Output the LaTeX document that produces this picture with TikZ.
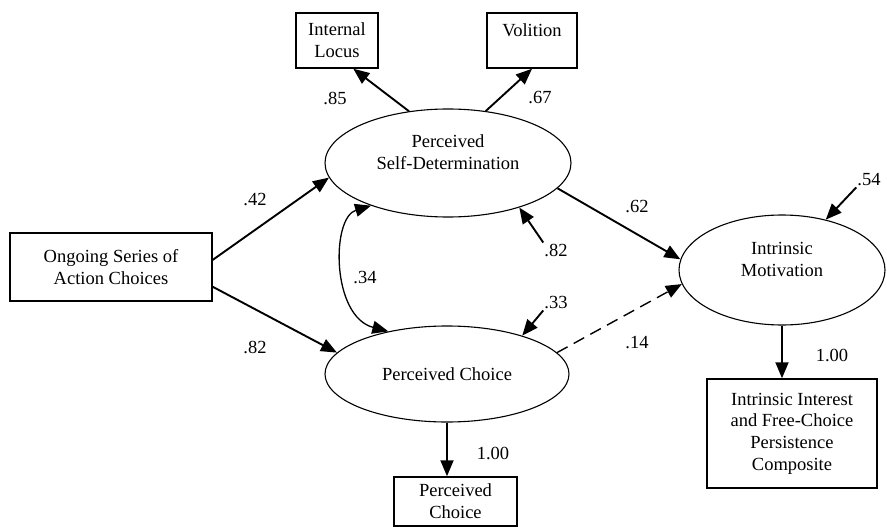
\documentclass[tikz,border=0pt]{standalone}
\usepackage{fontspec}
\setmainfont{Liberation Serif}
\usetikzlibrary{arrows.meta,shapes.geometric}
\begin{document}
\begin{tikzpicture}[x=1pt, y=-1pt,
  font=\fontsize{18.5}{21.7}\selectfont,
  obs/.style={draw, line width=1.5pt, inner sep=0pt, align=center},
  lat/.style={draw, ellipse, line width=1.1pt, inner sep=0pt, align=center},
  pth/.style={-{Triangle[length=16pt,width=13pt]}, line width=1.9pt},
  coef/.style={inner sep=1pt}]
\useasboundingbox (0,0) rectangle (887,527);
\node [obs, minimum width=82, minimum height=55] (il) at (337,40.5) {Internal\\Locus};
\node [obs, minimum width=90, minimum height=55] (vol) at (532,40.5) {Volition\\~};
\node [obs, minimum width=202, minimum height=68] (osac) at (111,267) {Ongoing Series of\\Action Choices};
\node [lat, minimum width=246, minimum height=108] (sd) at (448,163) {Perceived\\Self-Determination\\~};
\node [lat, minimum width=244, minimum height=96] (pc) at (447,374) {Perceived Choice};
\node [lat, minimum width=206, minimum height=110] (im) at (782,270) {Intrinsic\\Motivation\\~};
\node [obs, minimum width=123, minimum height=49] (pcbox) at (455.5,501.5) {Perceived\\Choice};
\node [obs, minimum width=170, minimum height=109] (iifc) at (792,433.5) {Intrinsic Interest\\and Free-Choice\\Persistence\\Composite};
\node [coef] (n85) at (335,98) {.85};
\node [coef] (n67) at (540,98) {.67};
\node [coef] (n42) at (255,200) {.42};
\node [coef] (n82) at (255,347) {.82};
\node [coef] (n34) at (365,278) {.34};
\node [coef] (e82) at (556,250) {.82};
\node [coef] (e33) at (556,303) {.33};
\node [coef] (e54) at (869,180) {.54};
\node [coef] (n62) at (637,207) {.62};
\node [coef] (n14) at (637,343) {.14};
\node [coef] (n100a) at (493,453) {1.00};
\node [coef] (n100b) at (832,355) {1.00};
\draw [pth] (sd.127) -- (il.-60);
\draw [pth] (sd.54) -- (vol.south);
\draw [pth] (osac.4) -- (sd.187);
\draw [pth] (osac.-11) -- (pc.169);
\draw [pth] (sd.-13) -- (im.174);
\draw [pth, line width=1.4pt, dash pattern=on 12pt off 7pt] (pc.11) -- (im.188);
\draw [pth] (pc.south) -- (pc.south |- pcbox.north);
\draw [pth] (im.south) -- (im.south |- iifc.north);
\draw [pth] (e82.north west) -- (sd.-32);
\draw [pth] (e33.south west) -- (pc.27);
\draw [pth] (e54.south west) -- (im.49);
\draw [{Triangle[length=16pt,width=13pt]}-{Triangle[length=16pt,width=13pt]}, line width=1.3pt]
  (sd.209) .. controls +(-40,12) and +(-57,-15) .. (pc.144);
\end{tikzpicture}
\end{document}
